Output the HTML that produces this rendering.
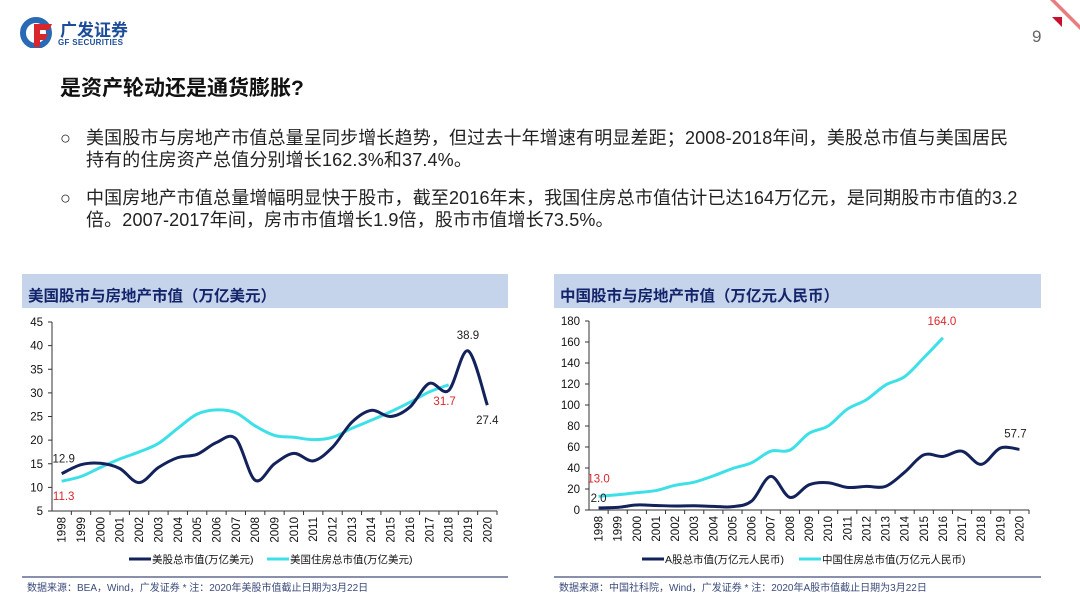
<!DOCTYPE html>
<html><head><meta charset="utf-8">
<style>
body{margin:0;width:1080px;height:607px;background:#fff;position:relative;overflow:hidden;font-family:"Liberation Sans","Noto Sans CJK SC",sans-serif;}
.abs{position:absolute;white-space:nowrap;}
.b{font-size:18px;color:#222;line-height:22px;letter-spacing:0.15px;}
</style></head><body>
<div class="abs" style="left:20px;top:16px;width:120px;height:34px;">
<svg width="34" height="32" style="position:absolute;left:0;top:0"><circle cx="16" cy="17" r="13" fill="none" stroke="#2a6ab5" stroke-width="6"/><path d="M14 8 H32 L29 14 H20 V18 H28 L25 24 H20 V31 H14 Z" fill="#d9262c"/></svg>
<div class="abs" style="left:40px;top:0;font-size:17px;font-weight:bold;color:#1d4d9a;">广发证券</div>
<div class="abs" style="left:38px;top:22px;font-size:8px;font-weight:bold;color:#1d4d9a;letter-spacing:.3px">GF SECURITIES</div>
</div>
<svg class="abs" style="left:1000px;top:0" width="80" height="30"><path d="M55 0 L80 25 V30 L50 0Z" fill="#d9262c" opacity=".6"/><path d="M52 17 L62 17 L62 27Z" fill="#c8102e"/></svg>
<div class="abs" style="left:1032px;top:27px;font-size:17px;color:#666;">9</div>
<div class="abs" style="left:60px;top:72px;font-size:21px;font-weight:bold;color:#111;">是资产轮动还是通货膨胀?</div>
<div class="abs b" style="left:60px;top:127px;">○</div>
<div class="abs b" style="left:86px;top:127px;">美国股市与房地产市值总量呈同步增长趋势，但过去十年增速有明显差距；2008-2018年间，美股总市值与美国居民<br>持有的住房资产总值分别增长162.3%和37.4%。</div>
<div class="abs b" style="left:60px;top:187px;">○</div>
<div class="abs b" style="left:86px;top:187px;">中国房地产市值总量增幅明显快于股市，截至2016年末，我国住房总市值估计已达164万亿元，是同期股市市值的3.2<br>倍。2007-2017年间，房市市值增长1.9倍，股市市值增长73.5%。</div>
<svg id="svg" class="abs" style="left:0;top:0" width="1080" height="607"></svg>
<script>
const years=['1998','1999','2000','2001','2002','2003','2004','2005','2006','2007','2008','2009','2010','2011','2012','2013','2014','2015','2016','2017','2018','2019','2020'];
const usStock=[12.9,14.8,15.1,14.0,11.0,14.2,16.3,17.0,19.5,20.3,11.5,15.0,17.2,15.6,18.5,23.8,26.3,25.0,27.0,32.0,30.5,38.9,27.4];
const usHouse=[11.3,12.3,14.2,16.0,17.5,19.3,22.5,25.5,26.4,25.8,23.0,21.0,20.6,20.1,20.6,22.5,24.2,26.0,28.0,30.2,31.7];
const usTicks=[5,10,15,20,25,30,35,40,45];
const cnStock=[2.0,2.5,4.8,4.3,3.8,4.0,3.5,3.2,8.5,32.0,12.0,24.0,26.0,21.5,22.5,22.5,36.0,52.5,51.0,56.0,43.5,59.0,57.7];
const cnHouse=[13.0,14.5,16.5,18.5,23.5,26.5,32.5,39.5,45.0,56.0,57.0,73.0,80.0,96.0,105.0,119.0,127.0,145.0,164.0];
const cnTicks=[0,20,40,60,80,100,120,140,160,180];
const svg=document.getElementById('svg');const NS='http://www.w3.org/2000/svg';
function mk(t,a,txt){const e=document.createElementNS(NS,t);for(const k in a)e.setAttribute(k,a[k]);if(txt!==undefined)e.textContent=txt;svg.appendChild(e);return e;}
function smooth(p){let d='M'+p[0][0]+' '+p[0][1];for(let i=0;i<p.length-1;i++){const p0=p[i-1]||p[i],p1=p[i],p2=p[i+1],p3=p[i+2]||p2;d+=' C'+(p1[0]+(p2[0]-p0[0])/6)+' '+(p1[1]+(p2[1]-p0[1])/6)+' '+(p2[0]-(p3[0]-p1[0])/6)+' '+(p2[1]-(p3[1]-p1[1])/6)+' '+p2[0]+' '+p2[1];}return d;}
function chart(c){
 let e=mk('rect',{x:c.px,y:274,width:c.pw,height:34,fill:'#c5d4ea'});
 
 e=mk('text',{x:c.px+6,y:301,'font-size':15.5,'font-weight':'bold',fill:'#13246b'},c.title);
 
 const x0=c.ax,x1=c.ax2,bw=(x1-x0)/years.length;
 const X=i=>x0+bw*(i+0.5);const Y=v=>c.yb-(v-c.min)/(c.max-c.min)*(c.yb-c.yt);
 mk('line',{x1:x0,y1:c.yt,x2:x0,y2:c.yb,stroke:'#333','stroke-width':1});
 mk('line',{x1:x0,y1:c.yb,x2:x1,y2:c.yb,stroke:'#333','stroke-width':1});
 c.ticks.forEach(t=>{mk('line',{x1:x0-4,y1:Y(t),x2:x0,y2:Y(t),stroke:'#333'});
  e=mk('text',{x:x0-9,y:Y(t)+4,'font-size':11.5,'text-anchor':'end',fill:'#111'},t);
  });
 years.forEach((y,i)=>{mk('line',{x1:x0+bw*(i+1),y1:c.yb,x2:x0+bw*(i+1),y2:c.yb+4,stroke:'#333'});
  e=mk('text',{x:0,y:0,'font-size':11.5,'text-anchor':'end',fill:'#111',transform:`translate(${X(i)+4},${c.yb+6}) rotate(-90)`},y);
  });
 e=mk('path',{d:smooth(c.s2.map((v,i)=>[X(i),Y(v)])),fill:'none',stroke:'#3ee0e8','stroke-width':3});
 
 e=mk('path',{d:smooth(c.s1.map((v,i)=>[X(i),Y(v)])),fill:'none',stroke:'#13225a','stroke-width':3});
 
 c.labels.forEach(l=>{const v=l.s[l.i];e=mk('text',{x:X(l.i)+l.dx,y:Y(v)+l.dy,'font-size':11.5,'text-anchor':'middle',fill:l.col},v.toFixed(1));
  });
 mk('line',{x1:c.l1,y1:559,x2:c.l1+22,y2:559,stroke:'#13225a','stroke-width':3});
 e=mk('text',{x:c.l1+23,y:563,'font-size':10.5,fill:'#111'},c.n1);
 mk('line',{x1:c.l2,y1:559,x2:c.l2+22,y2:559,stroke:'#3ee0e8','stroke-width':3});
 e=mk('text',{x:c.l2+23,y:563,'font-size':10.5,fill:'#111'},c.n2);
 mk('line',{x1:c.px,y1:577,x2:c.px+c.pw,y2:577,stroke:'#13225a','stroke-width':1});
 e=mk('text',{x:c.px+5,y:591,'font-size':10,fill:'#3a4a7a'},c.src);
}
chart({id:'us',px:22,pw:486,title:'美国股市与房地产市值（万亿美元）',ax:52,ax2:497,yt:322,yb:511,min:5,max:45,ticks:usTicks,s1:usStock,s2:usHouse,
 labels:[{s:usStock,i:0,dx:2,dy:-11,col:'#222'},{s:usHouse,i:0,dx:2,dy:19,col:'#d9262c'},{s:usStock,i:21,dx:0,dy:-12,col:'#222'},{s:usStock,i:22,dx:0,dy:19,col:'#222'},{s:usHouse,i:20,dx:-4,dy:20,col:'#d9262c'}],
 l1:129,l2:267,n1:'美股总市值(万亿美元)',n2:'美国住房总市值(万亿美元)',src:'数据来源：BEA，Wind，广发证券  * 注：2020年美股市值截止日期为3月22日'});
chart({id:'cn',px:554,pw:487,title:'中国股市与房地产市值（万亿元人民币）',ax:589,ax2:1029,yt:321,yb:510,min:0,max:180,ticks:cnTicks,s1:cnStock,s2:cnHouse,
 labels:[{s:cnStock,i:0,dx:0,dy:-6,col:'#222'},{s:cnHouse,i:0,dx:0,dy:-14,col:'#d9262c'},{s:cnStock,i:22,dx:-4,dy:-12,col:'#222'},{s:cnHouse,i:18,dx:-1,dy:-13,col:'#d9262c'}],
 l1:642,l2:799,n1:'A股总市值(万亿元人民币)',n2:'中国住房总市值(万亿元人民币)',src:'数据来源：中国社科院，Wind，广发证券  * 注：2020年A股市值截止日期为3月22日'});
</script>
</body></html>
